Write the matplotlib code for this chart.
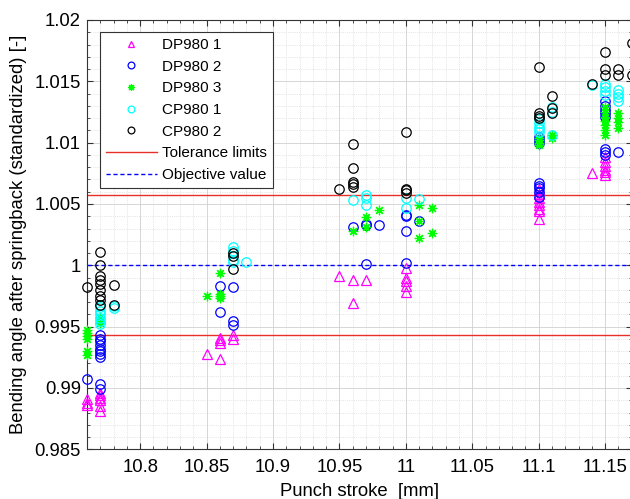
import matplotlib
matplotlib.use("Agg")
import matplotlib.pyplot as plt
from matplotlib.ticker import MultipleLocator, FuncFormatter

plt.rcParams['font.family'] = ['Liberation Sans', 'DejaVu Sans']

# punch stroke [mm] -> measured standardized bending angles, per material
dp1_stroke = [10.76, 10.77, 10.85, 10.86, 10.87, 10.95, 10.96, 10.97, 11.0, 11.1, 11.14, 11.15]
dp1_vals = [[0.9891, 0.9888, 0.9886],
            [0.9896, 0.9894, 0.9892, 0.9890, 0.9885, 0.9881],
            [0.9928],
            [0.9941, 0.9939, 0.9937, 0.9924],
            [0.9943, 0.9940],
            [0.9991],
            [0.9988, 0.9969],
            [0.9988],
            [0.9998, 0.9990, 0.9987, 0.9983, 0.9978],
            [1.0062, 1.0058, 1.0055, 1.0052, 1.0049, 1.0046, 1.0044, 1.0038],
            [1.0075],
            [1.0088, 1.0084, 1.0081, 1.0078, 1.0076, 1.0074]]

dp2_stroke = [10.76, 10.77, 10.86, 10.87, 10.96, 10.97, 10.98, 11.0, 11.01, 11.1, 11.15, 11.16]
dp2_vals = [[0.9907],
            [0.9943, 0.9940, 0.9938, 0.9935, 0.9932, 0.9930, 0.9928, 0.9925, 0.9903, 0.9899],
            [0.9983, 0.9962],
            [0.9982, 0.9955, 0.9951],
            [1.0031],
            [1.0034, 1.0033, 1.0001],
            [1.0033],
            [1.0041, 1.0040, 1.0028, 1.0002],
            [1.0036],
            [1.0105, 1.0102, 1.0100, 1.0067, 1.0065, 1.0063, 1.0060, 1.0056],
            [1.0134, 1.0130, 1.0127, 1.0124, 1.0121, 1.0095, 1.0092, 1.0090],
            [1.0092]]

dp3_stroke = [10.76, 10.77, 10.85, 10.86, 10.96, 10.97, 10.98, 11.01, 11.02, 11.1, 11.11, 11.15, 11.16]
dp3_vals = [[0.9947, 0.9945, 0.9942, 0.9940, 0.9930, 0.9927],
            [0.9958, 0.9953],
            [0.9975],
            [0.9994, 0.9977, 0.9975, 0.9973],
            [1.0028],
            [1.0039, 1.0031],
            [1.0045],
            [1.0049, 1.0036, 1.0022],
            [1.0047, 1.0026],
            [1.0104, 1.0102, 1.0100, 1.0098],
            [1.0106, 1.0104],
            [1.0129, 1.0125, 1.0121, 1.0118, 1.0114, 1.0110, 1.0106],
            [1.0124, 1.0120, 1.0117, 1.0112]]

cp1_stroke = [10.77, 10.78, 10.87, 10.88, 10.96, 10.97, 11.0, 11.01, 11.1, 11.11, 11.14, 11.15, 11.16]
cp1_vals = [[0.9968, 0.9966, 0.9963, 0.9960, 0.9957, 0.9955, 0.9952],
            [0.9967, 0.9965],
            [1.0015, 1.0012, 1.0004, 1.0003],
            [1.0003],
            [1.0053],
            [1.0057, 1.0055, 1.0049],
            [1.0055, 1.0047],
            [1.0054],
            [1.0119, 1.0116, 1.0113, 1.0111, 1.0109],
            [1.0129, 1.0125, 1.0106],
            [1.0147],
            [1.0148, 1.0145, 1.0142, 1.0139],
            [1.0143, 1.0140, 1.0137, 1.0134]]

cp2_stroke = [10.76, 10.77, 10.78, 10.87, 10.95, 10.96, 11.0, 11.1, 11.11, 11.14, 11.15, 11.16, 11.17]
cp2_vals = [[0.9982],
            [1.0011, 1.0000, 0.9991, 0.9988, 0.9985, 0.9980, 0.9975, 0.9972, 0.9968],
            [0.9984, 0.9968],
            [1.0010, 1.0008, 0.9997],
            [1.0062],
            [1.0099, 1.0079, 1.0068, 1.0066, 1.0064],
            [1.0109, 1.0062, 1.0061, 1.0059],
            [1.0162, 1.0124, 1.0122, 1.0120],
            [1.0138, 1.0128, 1.0124],
            [1.0148],
            [1.0174, 1.0160, 1.0155],
            [1.0160, 1.0155],
            [1.0181, 1.0155]]

series_names = ["DP980 1", "DP980 2", "DP980 3", "CP980 1", "CP980 2"]
objective = 1.0
tolerance = 0.0057


def expand(strokes, vals):
    xs, ys = [], []
    for s, group in zip(strokes, vals):
        for v in group:
            xs.append(s)
            ys.append(v)
    return xs, ys


fig = plt.figure(figsize=(6.30, 4.99), dpi=100)
ax = fig.add_axes([87 / 630, 49.7 / 499, 544.7 / 630, 429.3 / 499])

styles = [("^", "#ff00ff"), ("o", "#0000ff"), ((8, 2, 0), "#00ff00"),
          ("o", "#00ffff"), ("o", "#000000")]
all_data = [(dp1_stroke, dp1_vals), (dp2_stroke, dp2_vals), (dp3_stroke, dp3_vals),
            (cp1_stroke, cp1_vals), (cp2_stroke, cp2_vals)]

for (strokes, vals), (mk, col), name in zip(all_data, styles, series_names):
    xs, ys = expand(strokes, vals)
    ax.plot(xs, ys, linestyle="none", marker=mk, markersize=6.8,
            markerfacecolor="none", markeredgecolor=col, color=col,
            markeredgewidth=0.9, label=name, clip_on=False, zorder=3)

ax.axhline(objective + tolerance, color="#e8302a", lw=1.0, label="Tolerance limits", zorder=2)
ax.axhline(objective - tolerance, color="#e8302a", lw=1.0, zorder=2)
ax.axhline(objective, color="#0000ff", lw=1.0, ls=(0, (3, 2)), label="Objective value", zorder=2)

ax.set_xlim(10.76, 11.17)
ax.set_ylim(0.985, 1.02)
ax.xaxis.set_major_locator(MultipleLocator(0.05))
ax.xaxis.set_minor_locator(MultipleLocator(0.01))
ax.yaxis.set_major_locator(MultipleLocator(0.005))
ax.yaxis.set_minor_locator(MultipleLocator(0.001))
fmt = FuncFormatter(lambda v, p: "%g" % round(v, 4))
ax.xaxis.set_major_formatter(fmt)
ax.yaxis.set_major_formatter(fmt)

ax.grid(True, which="major", color="#d0d0d0", lw=0.6)
ax.grid(True, which="minor", color="#d0d0d0", lw=0.5, ls=":")
ax.set_axisbelow(True)
ax.tick_params(which="both", direction="in", top=True, right=True, labelsize=13.3, color="#333333")
ax.tick_params(which="major", length=4)
ax.tick_params(which="minor", length=2)
ax.tick_params(axis="x", which="major", pad=7)
ax.tick_params(axis="y", which="major", pad=4.5)
for sp in ax.spines.values():
    sp.set_color("#333333")
    sp.set_linewidth(0.8)

ax.set_xlabel("Punch stroke  [mm]", fontsize=13.3, labelpad=5)
ax.set_ylabel("Bending angle after springback (standardized) [-]", fontsize=13.3, labelpad=5)

leg = ax.legend(loc="upper left", bbox_to_anchor=(100 / 630, 1 - 32 / 499),
                bbox_transform=fig.transFigure, fontsize=11, numpoints=1,
                markerscale=0.72, handlelength=3.3, handletextpad=0.35,
                labelspacing=0.5, borderpad=0.4, fancybox=False, framealpha=1,
                edgecolor="#333333", borderaxespad=0)
leg.get_frame().set_linewidth(0.8)

fig.savefig("out.png", dpi=100)
